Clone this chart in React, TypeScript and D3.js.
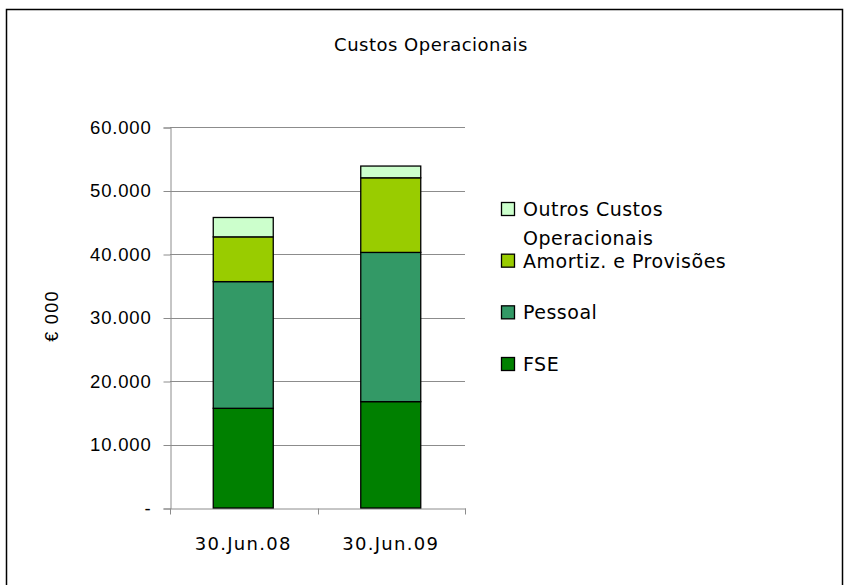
import { useEffect, useRef } from 'react'
import * as d3 from 'd3'

const categories = ['30.Jun.08', '30.Jun.09']
const seriesNames = ['FSE', 'Pessoal', 'Amortiz. e Provisões', 'Outros Custos Operacionais']
const fse = [15700, 16750]
const pessoal = [19950, 23500]
const amortiz = [7050, 11750]
const outros = [3050, 1850]
const yTicks = [0, 10000, 20000, 30000, 40000, 50000, 60000]
const colors = ['#008000', '#339966', '#99CC00', '#CCFFCC']

const W = 846
const H = 585

export default function App() {
  const svgRef = useRef<SVGSVGElement>(null)

  useEffect(() => {
    if (!svgRef.current) return
    const svg = d3.select(svgRef.current)
    svg.selectAll('*').remove()

    const left = 170
    const right = 465
    const top = 127
    const bottom = 508

    // frame
    svg.append('rect')
      .attr('x', 6.5).attr('y', 9.5)
      .attr('width', 836).attr('height', 600)
      .attr('fill', 'white').attr('stroke', 'black').attr('stroke-width', 1.5)

    const x = d3.scaleBand<string>().domain(categories).range([left, right]).padding(0)
    const y = d3.scaleLinear().domain([0, 60000]).range([bottom, top])

    const locale = d3.formatLocale({ decimal: ',', thousands: '.', grouping: [3], currency: ['', ''] })
    const fmt = locale.format(',.0f')

    // grid
    svg.append('g')
      .selectAll('line')
      .data(yTicks.filter(d => d > 0))
      .enter()
      .append('line')
      .attr('x1', left).attr('x2', right)
      .attr('y1', d => Math.round(y(d)) + 0.5).attr('y2', d => Math.round(y(d)) + 0.5)
      .attr('stroke', '#8c8c8c').attr('stroke-width', 1)

    // y axis
    const ya = svg.append('g').attr('transform', `translate(${left + 0.5},0.5)`)
      .call(d3.axisLeft(y).tickValues(yTicks).tickSize(7).tickPadding(12)
        .tickFormat(d => (+d === 0 ? '-' : fmt(+d))))
    ya.select('.domain').attr('stroke', '#8c8c8c')
    ya.selectAll('.tick line').attr('stroke', '#8c8c8c')
    ya.selectAll('.tick text')
      .attr('fill', '#000')
      .attr('font-family', '"Liberation Sans", Arial, sans-serif')
      .attr('font-size', 18.5)
      .attr('letter-spacing', 0.8)

    // x axis
    const xa = svg.append('g').attr('transform', `translate(0.5,${bottom + 0.5})`)
      .call(d3.axisBottom(x).tickValues([]).tickSizeOuter(0))
    xa.select('.domain').attr('stroke', '#8c8c8c')
    xa.selectAll('.bound')
      .data([left, (left + right) / 2, right])
      .enter()
      .append('line')
      .attr('x1', d => Math.round(d)).attr('x2', d => Math.round(d))
      .attr('y1', 0).attr('y2', 6)
      .attr('stroke', '#8c8c8c')
    xa.selectAll('.lbl')
      .data(categories)
      .enter()
      .append('text')
      .attr('x', d => (x(d) as number) + x.bandwidth() / 2 - 1)
      .attr('y', 41)
      .attr('text-anchor', 'middle')
      .attr('font-family', '"DejaVu Sans", Verdana, sans-serif')
      .attr('font-size', 18)
      .attr('letter-spacing', 1.3)
      .attr('fill', '#000')
      .text(d => d)

    // stacked bars
    const rows = categories.map((c, i) => ({
      cat: c, s0: fse[i], s1: pessoal[i], s2: amortiz[i], s3: outros[i],
    }))
    const stack = d3.stack<any>().keys(['s0', 's1', 's2', 's3'])(rows)
    const barW = 60
    svg.append('g')
      .selectAll('g')
      .data(stack)
      .enter()
      .append('g')
      .attr('fill', (_, i) => colors[i])
      .selectAll('rect')
      .data(d => d)
      .enter()
      .append('rect')
      .attr('x', d => (x(d.data.cat) as number) + x.bandwidth() / 2 - barW / 2 - 0.5)
      .attr('y', d => y(d[1]))
      .attr('width', barW)
      .attr('height', d => y(d[0]) - y(d[1]))
      .attr('stroke', '#000')
      .attr('stroke-width', 1.3)

    // y title
    svg.append('text')
      .attr('transform', `translate(58,316) rotate(-90)`)
      .attr('text-anchor', 'middle')
      .attr('font-family', '"Liberation Sans", Arial, sans-serif')
      .attr('font-size', 18)
      .attr('letter-spacing', 1.3)
      .attr('fill', '#000')
      .text('€ 000')

    // title
    svg.append('text')
      .attr('x', 431).attr('y', 51)
      .attr('text-anchor', 'middle')
      .attr('font-family', '"DejaVu Sans", Verdana, sans-serif')
      .attr('font-size', 18)
      .attr('letter-spacing', 0.5)
      .attr('fill', '#000')
      .text('Custos Operacionais')

    // legend (top to bottom: reversed series order)
    const legendItems = seriesNames.map((n, i) => ({ n, c: colors[i] })).reverse()
    const ly = d3.scalePoint<string>().domain(legendItems.map(d => d.n)).range([209, 364])
    const lg = svg.append('g')
    const item = lg.selectAll('g').data(legendItems).enter().append('g')
      .attr('transform', d => `translate(501,${ly(d.n)})`)
    item.append('rect')
      .attr('x', 0.5).attr('y', -6.5).attr('width', 13).attr('height', 13)
      .attr('fill', d => d.c).attr('stroke', '#000').attr('stroke-width', 1.3)
    item.append('text')
      .attr('x', 22).attr('y', 7)
      .attr('font-family', '"DejaVu Sans", Verdana, sans-serif')
      .attr('font-size', 19)
      .attr('letter-spacing', 0.5)
      .attr('fill', '#000')
      .each(function (d) {
        const t = d3.select(this)
        const lines = d.n === 'Outros Custos Operacionais' ? ['Outros Custos', 'Operacionais'] : [d.n]
        lines.forEach((l, k) => {
          t.append('tspan').attr('x', 22).attr('dy', k === 0 ? 0 : 29).text(l)
        })
      })
  }, [])

  return (
    <svg ref={svgRef} width={W} height={H} style={{ position: 'absolute', left: 0, top: 0, display: 'block' }} />
  )
}
